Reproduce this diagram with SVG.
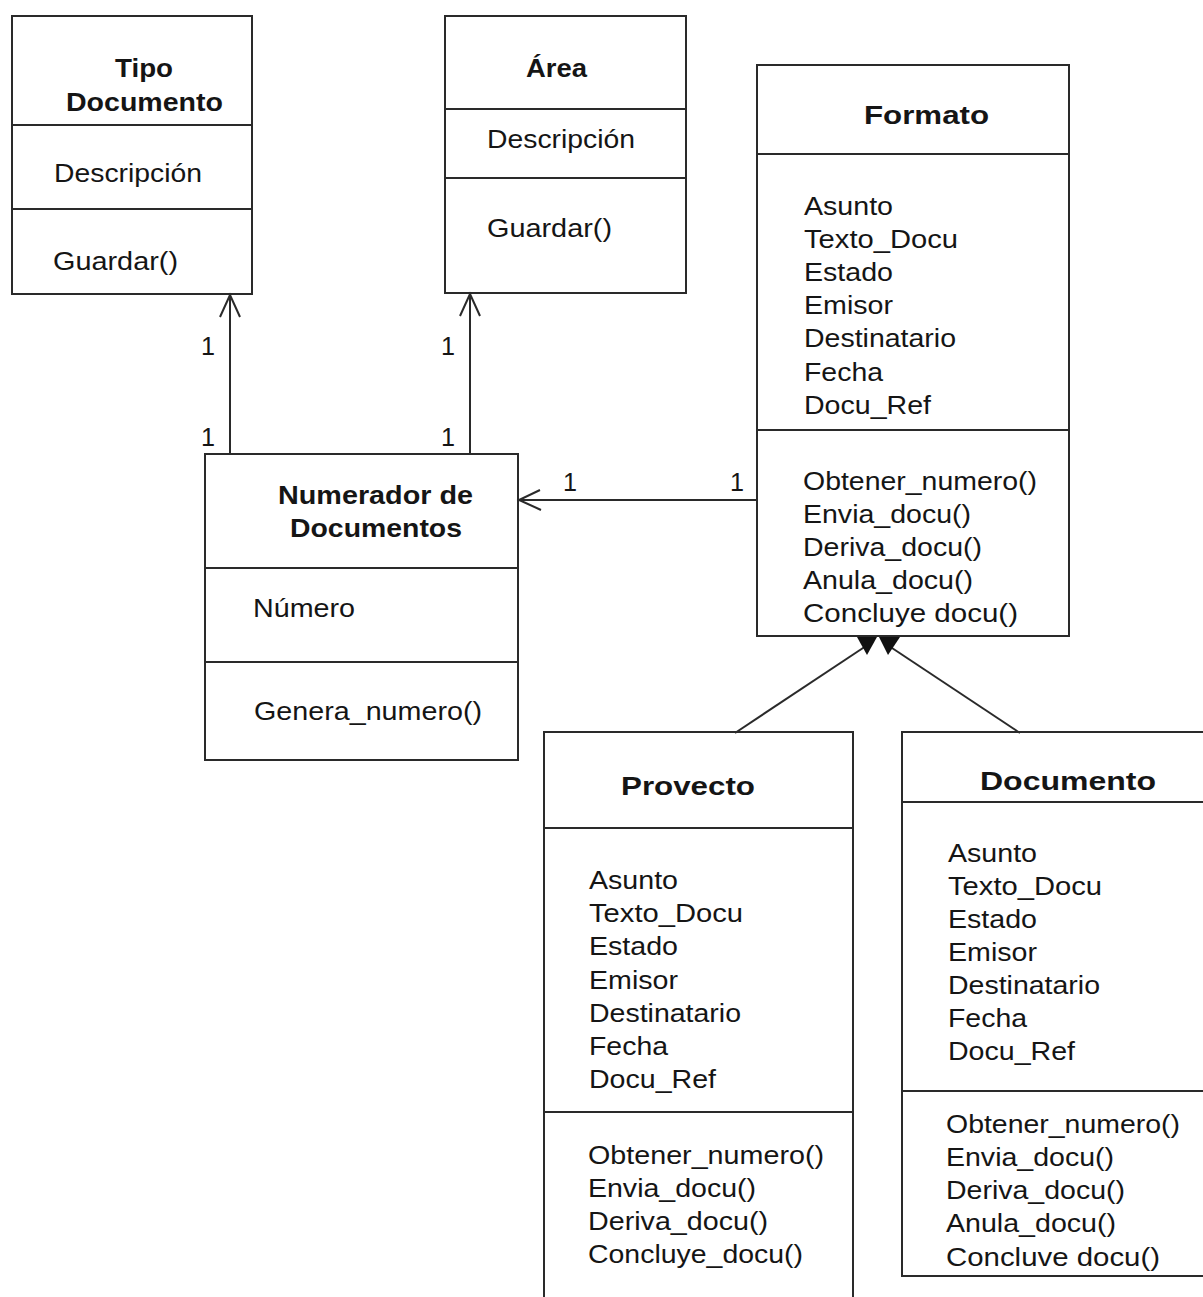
<svg xmlns="http://www.w3.org/2000/svg" width="1203" height="1297" viewBox="0 0 1203 1297">
<style>
.box{fill:none;stroke:#2a2a2a;stroke-width:2}
.ln{stroke:#2a2a2a;stroke-width:2;fill:none}
.t{font-family:"Liberation Sans",Arial,sans-serif;font-size:25px;fill:#151515}
.b{font-family:"Liberation Sans",Arial,sans-serif;font-size:25px;font-weight:bold;fill:#151515}
.c{stroke:#2a2a2a;stroke-width:2;fill:none}
.tri{fill:#111;stroke:none}
</style>
<rect width="1203" height="1297" fill="#ffffff"/>

<g id="tipo-documento">
<rect class="box" x="12" y="16" width="240" height="278"/>
<line class="ln" x1="12" y1="125" x2="252" y2="125"/>
<line class="ln" x1="12" y1="209" x2="252" y2="209"/>
<text class="b" x="115" y="77" textLength="58" lengthAdjust="spacingAndGlyphs">Tipo</text>
<text class="b" x="66" y="111" textLength="157" lengthAdjust="spacingAndGlyphs">Documento</text>
<text class="t" x="54" y="182" textLength="148" lengthAdjust="spacingAndGlyphs">Descripción</text>
<text class="t" x="53" y="270" textLength="125" lengthAdjust="spacingAndGlyphs">Guardar()</text>
</g>

<g id="area">
<rect class="box" x="445" y="16" width="241" height="277"/>
<line class="ln" x1="445" y1="109" x2="686" y2="109"/>
<line class="ln" x1="445" y1="178" x2="686" y2="178"/>
<text class="b" x="526" y="77" textLength="61" lengthAdjust="spacingAndGlyphs">Área</text>
<text class="t" x="487" y="148" textLength="148" lengthAdjust="spacingAndGlyphs">Descripción</text>
<text class="t" x="487" y="237" textLength="125" lengthAdjust="spacingAndGlyphs">Guardar()</text>
</g>

<g id="numerador">
<rect class="box" x="205" y="454" width="313" height="306"/>
<line class="ln" x1="205" y1="568" x2="518" y2="568"/>
<line class="ln" x1="205" y1="662" x2="518" y2="662"/>
<text class="b" x="278" y="504" textLength="195" lengthAdjust="spacingAndGlyphs">Numerador de</text>
<text class="b" x="290" y="537" textLength="172" lengthAdjust="spacingAndGlyphs">Documentos</text>
<text class="t" x="253" y="617" textLength="102" lengthAdjust="spacingAndGlyphs">Número</text>
<text class="t" x="254" y="720" textLength="228" lengthAdjust="spacingAndGlyphs">Genera_numero()</text>
</g>

<g id="formato">
<rect class="box" x="757" y="65" width="312" height="571"/>
<line class="ln" x1="757" y1="154" x2="1069" y2="154"/>
<line class="ln" x1="757" y1="430" x2="1069" y2="430"/>
<text class="b" x="864" y="124" textLength="125" lengthAdjust="spacingAndGlyphs">Formato</text>
<text class="t" x="804" y="215" textLength="89" lengthAdjust="spacingAndGlyphs">Asunto</text>
<text class="t" x="804" y="248" textLength="154" lengthAdjust="spacingAndGlyphs">Texto_Docu</text>
<text class="t" x="804" y="281" textLength="89" lengthAdjust="spacingAndGlyphs">Estado</text>
<text class="t" x="804" y="314" textLength="89" lengthAdjust="spacingAndGlyphs">Emisor</text>
<text class="t" x="804" y="347" textLength="152" lengthAdjust="spacingAndGlyphs">Destinatario</text>
<text class="t" x="804" y="381" textLength="79" lengthAdjust="spacingAndGlyphs">Fecha</text>
<text class="t" x="804" y="414" textLength="127" lengthAdjust="spacingAndGlyphs">Docu_Ref</text>
<text class="t" x="803" y="490" textLength="234" lengthAdjust="spacingAndGlyphs">Obtener_numero()</text>
<text class="t" x="803" y="523" textLength="168" lengthAdjust="spacingAndGlyphs">Envia_docu()</text>
<text class="t" x="803" y="556" textLength="179" lengthAdjust="spacingAndGlyphs">Deriva_docu()</text>
<text class="t" x="803" y="589" textLength="170" lengthAdjust="spacingAndGlyphs">Anula_docu()</text>
<text class="t" x="803" y="622" textLength="215" lengthAdjust="spacingAndGlyphs">Concluye  docu()</text>
</g>

<g id="proyecto">
<path class="box" d="M544,1297 V732 H853 V1297"/>
<line class="ln" x1="544" y1="828" x2="853" y2="828"/>
<line class="ln" x1="544" y1="1112" x2="853" y2="1112"/>
<text class="b" x="621" y="795" font-size="26" textLength="134" lengthAdjust="spacingAndGlyphs">Provecto</text>
<text class="t" x="589" y="889" textLength="89" lengthAdjust="spacingAndGlyphs">Asunto</text>
<text class="t" x="589" y="922" textLength="154" lengthAdjust="spacingAndGlyphs">Texto_Docu</text>
<text class="t" x="589" y="955" textLength="89" lengthAdjust="spacingAndGlyphs">Estado</text>
<text class="t" x="589" y="989" textLength="89" lengthAdjust="spacingAndGlyphs">Emisor</text>
<text class="t" x="589" y="1022" textLength="152" lengthAdjust="spacingAndGlyphs">Destinatario</text>
<text class="t" x="589" y="1055" textLength="79" lengthAdjust="spacingAndGlyphs">Fecha</text>
<text class="t" x="589" y="1088" textLength="127" lengthAdjust="spacingAndGlyphs">Docu_Ref</text>
<text class="t" x="588" y="1164" textLength="236" lengthAdjust="spacingAndGlyphs">Obtener_numero()</text>
<text class="t" x="588" y="1197" textLength="168" lengthAdjust="spacingAndGlyphs">Envia_docu()</text>
<text class="t" x="588" y="1230" textLength="180" lengthAdjust="spacingAndGlyphs">Deriva_docu()</text>
<text class="t" x="588" y="1263" textLength="215" lengthAdjust="spacingAndGlyphs">Concluye_docu()</text>
</g>

<g id="documento">
<path class="box" d="M1203,732 H902 V1276 H1203"/>
<line class="ln" x1="902" y1="802" x2="1203" y2="802"/>
<line class="ln" x1="902" y1="1091" x2="1203" y2="1091"/>
<text class="b" x="980" y="790" font-size="26" textLength="176" lengthAdjust="spacingAndGlyphs">Documento</text>
<text class="t" x="948" y="862" textLength="89" lengthAdjust="spacingAndGlyphs">Asunto</text>
<text class="t" x="948" y="895" textLength="154" lengthAdjust="spacingAndGlyphs">Texto_Docu</text>
<text class="t" x="948" y="928" textLength="89" lengthAdjust="spacingAndGlyphs">Estado</text>
<text class="t" x="948" y="961" textLength="89" lengthAdjust="spacingAndGlyphs">Emisor</text>
<text class="t" x="948" y="994" textLength="152" lengthAdjust="spacingAndGlyphs">Destinatario</text>
<text class="t" x="948" y="1027" textLength="79" lengthAdjust="spacingAndGlyphs">Fecha</text>
<text class="t" x="948" y="1060" textLength="127" lengthAdjust="spacingAndGlyphs">Docu_Ref</text>
<text class="t" x="946" y="1133" textLength="234" lengthAdjust="spacingAndGlyphs">Obtener_numero()</text>
<text class="t" x="946" y="1166" textLength="168" lengthAdjust="spacingAndGlyphs">Envia_docu()</text>
<text class="t" x="946" y="1199" textLength="179" lengthAdjust="spacingAndGlyphs">Deriva_docu()</text>
<text class="t" x="946" y="1232" textLength="170" lengthAdjust="spacingAndGlyphs">Anula_docu()</text>
<text class="t" x="946" y="1266" textLength="214" lengthAdjust="spacingAndGlyphs">Concluve  docu()</text>
</g>

<g id="connectors">
<line class="c" x1="230" y1="454" x2="230" y2="295"/>
<path class="c" d="M220,317 L230,295 L240,317"/>
<line class="c" x1="470" y1="454" x2="470" y2="294"/>
<path class="c" d="M460,316 L470,294 L480,316"/>
<line class="c" x1="757" y1="500" x2="519" y2="500"/>
<path class="c" d="M540,490 L519,500 L541,510"/>
<line class="c" x1="735" y1="733" x2="866" y2="646"/>
<polygon class="tri" points="857,637 877,637 867,655"/>
<line class="c" x1="889" y1="646" x2="1020" y2="733"/>
<polygon class="tri" points="879,637 900,637 888,655"/>
<text class="t" x="201" y="355" textLength="14" lengthAdjust="spacingAndGlyphs">1</text>
<text class="t" x="201" y="446" textLength="14" lengthAdjust="spacingAndGlyphs">1</text>
<text class="t" x="441" y="355" textLength="14" lengthAdjust="spacingAndGlyphs">1</text>
<text class="t" x="441" y="446" textLength="14" lengthAdjust="spacingAndGlyphs">1</text>
<text class="t" x="563" y="491" textLength="14" lengthAdjust="spacingAndGlyphs">1</text>
<text class="t" x="730" y="491" textLength="14" lengthAdjust="spacingAndGlyphs">1</text>
</g>
</svg>
